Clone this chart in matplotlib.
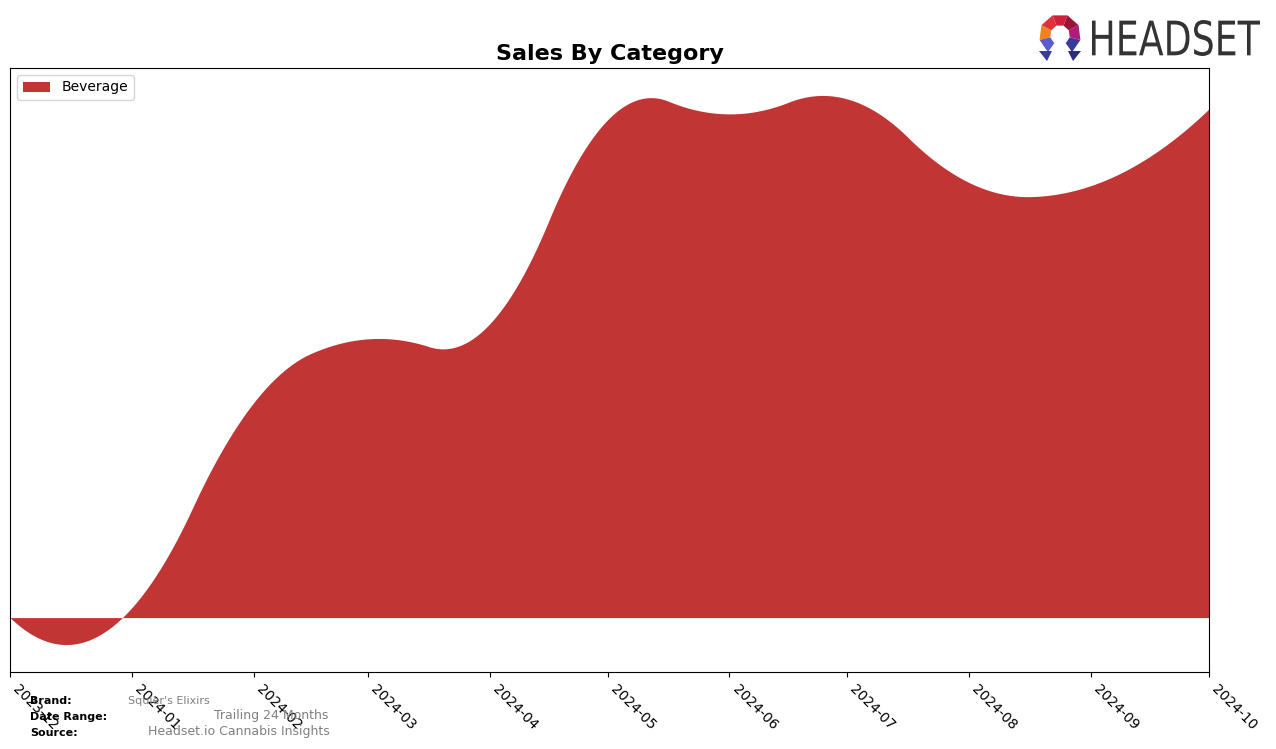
import numpy as np
import matplotlib.pyplot as plt
import matplotlib.dates as mdates
from matplotlib.textpath import TextPath
from matplotlib.patches import PathPatch, Polygon
from matplotlib.font_manager import FontProperties
from matplotlib.transforms import Affine2D

# monthly sales, Beverage category
months = ["2023-12", "2024-01", "2024-02", "2024-03", "2024-04", "2024-05",
          "2024-06", "2024-07", "2024-08", "2024-09", "2024-10"]
beverage = [0, 1000, 21600, 28000, 29500, 50000, 50600, 52100, 43700, 43400, 51100]

category = "Beverage"
fill_color = "#c13535"


def bspline_basis(t, k, x):
    # Cox-de Boor recursion, returns (len(x), len(t)-k-1)
    t = np.asarray(t, float)
    x = np.asarray(x, float)
    B = np.zeros((len(x), len(t) - 1))
    for i in range(len(t) - 1):
        B[:, i] = (t[i] <= x) & (x < t[i + 1])
    last = np.nonzero(t[:-1] < t[1:])[0].max()
    B[x >= t[-1], last] = 1
    for d in range(1, k + 1):
        Bn = np.zeros((len(x), len(t) - 1 - d))
        for i in range(len(t) - 1 - d):
            if t[i + d] != t[i]:
                Bn[:, i] += (x - t[i]) / (t[i + d] - t[i]) * B[:, i]
            if t[i + d + 1] != t[i + 1]:
                Bn[:, i] += (t[i + d + 1] - x) / (t[i + d + 1] - t[i + 1]) * B[:, i + 1]
        B = Bn
    return B


def quad_spline(x, y, xs):
    # quadratic interpolating spline, knots at midpoints (like make_interp_spline k=2)
    x = np.asarray(x, float)
    mids = (x[1:] + x[:-1]) / 2
    t = np.r_[[x[0]] * 3, mids[1:-1], [x[-1]] * 3]
    c = np.linalg.solve(bspline_basis(t, 2, x), np.asarray(y, float))
    return bspline_basis(t, 2, xs) @ c


dates = np.array([np.datetime64(m + "-01") for m in months])
xnum = mdates.date2num(dates)
xs = np.linspace(xnum[0], xnum[-1], 800)
ys = quad_spline(xnum, beverage, xs)

fig = plt.figure(figsize=(12.76, 7.49), dpi=100)
ax = fig.add_axes([10 / 1276, 1 - 672 / 749, 1199 / 1276, 604 / 749])

ax.fill_between(mdates.num2date(xs), ys, 0, color=fill_color, lw=0, label=category)
ax.set_xlim(dates[0], dates[-1])
ax.set_xticks(dates)
ax.xaxis.set_major_formatter(mdates.DateFormatter("%Y-%m"))
plt.setp(ax.get_xticklabels(), rotation=-45, ha="left", fontsize=10)
ax.set_yticks([])
ax.set_title("Sales By Category", fontsize=16, fontweight="bold")
ax.legend(loc="upper left", fontsize=10)

# footer
fig.text(30 / 1276, 1 - 701 / 749, "Brand:", fontsize=8, fontweight="bold", va="center")
fig.text(128 / 1276, 1 - 701 / 749, "Squier's Elixirs", fontsize=8, color="gray", va="center")
fig.text(30 / 1276, 1 - 717 / 749, "Date Range:", fontsize=8, fontweight="bold", va="center")
fig.text(214 / 1276, 1 - 716 / 749, "Trailing 24 Months", fontsize=9, color="gray", va="center")
fig.text(30 / 1276, 1 - 733 / 749, "Source:", fontsize=8, fontweight="bold", va="center")
fig.text(148 / 1276, 1 - 732 / 749, "Headset.io Cannabis Insights", fontsize=9, color="gray", va="center")

# logo
lax = fig.add_axes([1030 / 1276, 1 - 64 / 749, 240 / 1276, 52 / 749])
lax.set_xlim(0, 240)
lax.set_ylim(0, 52)
lax.axis("off")
cx, cy = 30, 29
ro, ri = 21, 10
seg_cols = ["#3a3a9a", "#b0197e", "#9c1238", "#cf1f3a", "#e0303a", "#f0821e", "#5b5bd0"]
angs = np.linspace(-55, 235, 8)
for k, c in enumerate(seg_cols):
    a0, a1 = np.radians(angs[k]), np.radians(angs[k + 1])
    pts = [(cx + ro * np.cos(a0), cy + ro * np.sin(a0)), (cx + ro * np.cos(a1), cy + ro * np.sin(a1)),
           (cx + ri * np.cos(a1), cy + ri * np.sin(a1)), (cx + ri * np.cos(a0), cy + ri * np.sin(a0))]
    lax.add_patch(Polygon(pts, closed=True, color=c, lw=0))
# legs
lax.add_patch(Polygon([(cx - 21, 13), (cx - 8, 13), (cx - 13, 3)], color="#3a3a9a", lw=0))
lax.add_patch(Polygon([(cx + 8, 13), (cx + 21, 13), (cx + 13, 3)], color="#2c2c7a", lw=0))
tp = TextPath((0, 0), "HEADSET", size=10, prop=FontProperties(family="DejaVu Sans"))
bb = tp.get_extents()
sx = 168 / bb.width
sy = 36 / bb.height
tr = Affine2D().translate(-bb.x0, -bb.y0).scale(sx, sy).translate(62, 8)
lax.add_patch(PathPatch(tr.transform_path(tp), color="#333333", lw=0))

fig.savefig("out.png", dpi=100)
